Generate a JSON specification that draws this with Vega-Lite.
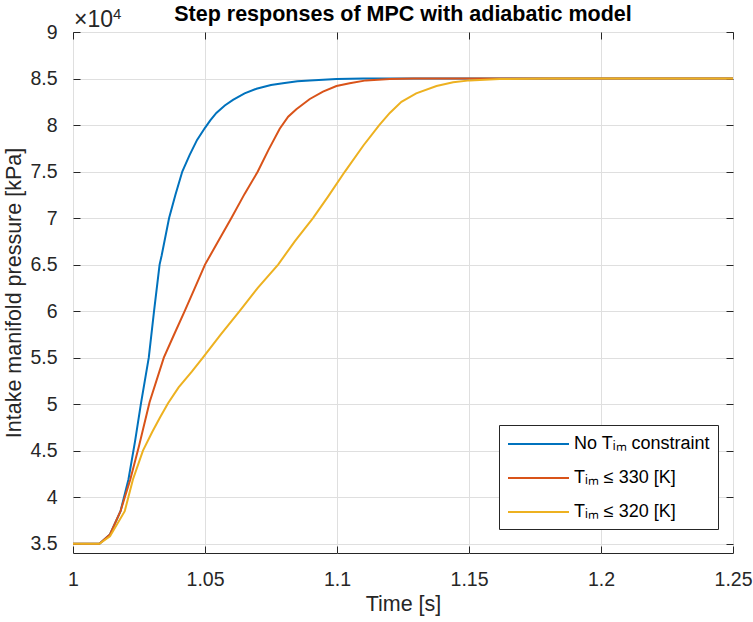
{
  "$schema": "https://vega.github.io/schema/vega-lite/v6.json",
  "width": 660,
  "height": 521,
  "autosize": "none",
  "padding": {"left": 73, "top": 32, "right": 20, "bottom": 69},
  "background": "white",
  "title": {"text": "Step responses of MPC with adiabatic model", "fontSize": 21.5, "fontWeight": "bold", "anchor": "middle", "offset": 8, "dy": 26, "color": "#000000", "font": "Liberation Sans"},
  "config": {
    "font": "Liberation Sans",
    "view": {"stroke": "#262626", "strokeWidth": 1},
    "axis": {
      "labelFont": "Liberation Sans",
      "labelFontSize": 19.5,
      "labelColor": "#262626",
      "titleFont": "Liberation Sans",
      "titleFontSize": 21.5,
      "titleFontWeight": "normal",
      "titleColor": "#262626",
      "gridColor": "#dfdfdf",
      "gridWidth": 1,
      "tickColor": "#262626",
      "tickSize": -7,
      "domain": false,
      "labelFlush": false,
      "labelOverlap": false
    }
  },
  "datasets": {
    "curves": [
      {"t": 1.000, "p": 35000, "series": "No Tᵢₘ constraint"},
      {"t": 1.010, "p": 35000, "series": "No Tᵢₘ constraint"},
      {"t": 1.014, "p": 36000, "series": "No Tᵢₘ constraint"},
      {"t": 1.018, "p": 38500, "series": "No Tᵢₘ constraint"},
      {"t": 1.021, "p": 41900, "series": "No Tᵢₘ constraint"},
      {"t": 1.0235, "p": 46000, "series": "No Tᵢₘ constraint"},
      {"t": 1.0257, "p": 50000, "series": "No Tᵢₘ constraint"},
      {"t": 1.0287, "p": 55000, "series": "No Tᵢₘ constraint"},
      {"t": 1.0307, "p": 60000, "series": "No Tᵢₘ constraint"},
      {"t": 1.0328, "p": 65000, "series": "No Tᵢₘ constraint"},
      {"t": 1.0336, "p": 66000, "series": "No Tᵢₘ constraint"},
      {"t": 1.0364, "p": 70000, "series": "No Tᵢₘ constraint"},
      {"t": 1.0388, "p": 72500, "series": "No Tᵢₘ constraint"},
      {"t": 1.0414, "p": 75000, "series": "No Tᵢₘ constraint"},
      {"t": 1.0442, "p": 76800, "series": "No Tᵢₘ constraint"},
      {"t": 1.0470, "p": 78400, "series": "No Tᵢₘ constraint"},
      {"t": 1.0500, "p": 79700, "series": "No Tᵢₘ constraint"},
      {"t": 1.0520, "p": 80500, "series": "No Tᵢₘ constraint"},
      {"t": 1.0543, "p": 81300, "series": "No Tᵢₘ constraint"},
      {"t": 1.0575, "p": 82100, "series": "No Tᵢₘ constraint"},
      {"t": 1.0606, "p": 82700, "series": "No Tᵢₘ constraint"},
      {"t": 1.0650, "p": 83400, "series": "No Tᵢₘ constraint"},
      {"t": 1.0695, "p": 83900, "series": "No Tᵢₘ constraint"},
      {"t": 1.0750, "p": 84300, "series": "No Tᵢₘ constraint"},
      {"t": 1.0795, "p": 84500, "series": "No Tᵢₘ constraint"},
      {"t": 1.0850, "p": 84700, "series": "No Tᵢₘ constraint"},
      {"t": 1.0897, "p": 84800, "series": "No Tᵢₘ constraint"},
      {"t": 1.0998, "p": 84950, "series": "No Tᵢₘ constraint"},
      {"t": 1.1100, "p": 84990, "series": "No Tᵢₘ constraint"},
      {"t": 1.1200, "p": 85000, "series": "No Tᵢₘ constraint"},
      {"t": 1.2500, "p": 85000, "series": "No Tᵢₘ constraint"},
      {"t": 1.000, "p": 35000, "series": "Tᵢₘ ≤ 330 [K]"},
      {"t": 1.010, "p": 35000, "series": "Tᵢₘ ≤ 330 [K]"},
      {"t": 1.014, "p": 36000, "series": "Tᵢₘ ≤ 330 [K]"},
      {"t": 1.018, "p": 38500, "series": "Tᵢₘ ≤ 330 [K]"},
      {"t": 1.0217, "p": 41900, "series": "Tᵢₘ ≤ 330 [K]"},
      {"t": 1.025, "p": 45500, "series": "Tᵢₘ ≤ 330 [K]"},
      {"t": 1.029, "p": 50200, "series": "Tᵢₘ ≤ 330 [K]"},
      {"t": 1.0344, "p": 55000, "series": "Tᵢₘ ≤ 330 [K]"},
      {"t": 1.0380, "p": 57300, "series": "Tᵢₘ ≤ 330 [K]"},
      {"t": 1.0423, "p": 60000, "series": "Tᵢₘ ≤ 330 [K]"},
      {"t": 1.0460, "p": 62400, "series": "Tᵢₘ ≤ 330 [K]"},
      {"t": 1.0500, "p": 65000, "series": "Tᵢₘ ≤ 330 [K]"},
      {"t": 1.0550, "p": 67500, "series": "Tᵢₘ ≤ 330 [K]"},
      {"t": 1.0600, "p": 70000, "series": "Tᵢₘ ≤ 330 [K]"},
      {"t": 1.0650, "p": 72600, "series": "Tᵢₘ ≤ 330 [K]"},
      {"t": 1.0700, "p": 75000, "series": "Tᵢₘ ≤ 330 [K]"},
      {"t": 1.0740, "p": 77300, "series": "Tᵢₘ ≤ 330 [K]"},
      {"t": 1.0783, "p": 79600, "series": "Tᵢₘ ≤ 330 [K]"},
      {"t": 1.0815, "p": 80900, "series": "Tᵢₘ ≤ 330 [K]"},
      {"t": 1.0846, "p": 81700, "series": "Tᵢₘ ≤ 330 [K]"},
      {"t": 1.0897, "p": 82800, "series": "Tᵢₘ ≤ 330 [K]"},
      {"t": 1.0947, "p": 83600, "series": "Tᵢₘ ≤ 330 [K]"},
      {"t": 1.0998, "p": 84200, "series": "Tᵢₘ ≤ 330 [K]"},
      {"t": 1.1048, "p": 84500, "series": "Tᵢₘ ≤ 330 [K]"},
      {"t": 1.1110, "p": 84800, "series": "Tᵢₘ ≤ 330 [K]"},
      {"t": 1.1200, "p": 84950, "series": "Tᵢₘ ≤ 330 [K]"},
      {"t": 1.1290, "p": 85000, "series": "Tᵢₘ ≤ 330 [K]"},
      {"t": 1.2500, "p": 85000, "series": "Tᵢₘ ≤ 330 [K]"},
      {"t": 1.000, "p": 35000, "series": "Tᵢₘ ≤ 320 [K]"},
      {"t": 1.010, "p": 35000, "series": "Tᵢₘ ≤ 320 [K]"},
      {"t": 1.014, "p": 35800, "series": "Tᵢₘ ≤ 320 [K]"},
      {"t": 1.0196, "p": 38500, "series": "Tᵢₘ ≤ 320 [K]"},
      {"t": 1.0227, "p": 41900, "series": "Tᵢₘ ≤ 320 [K]"},
      {"t": 1.0265, "p": 45000, "series": "Tᵢₘ ≤ 320 [K]"},
      {"t": 1.0300, "p": 47000, "series": "Tᵢₘ ≤ 320 [K]"},
      {"t": 1.0330, "p": 48600, "series": "Tᵢₘ ≤ 320 [K]"},
      {"t": 1.0360, "p": 50100, "series": "Tᵢₘ ≤ 320 [K]"},
      {"t": 1.0400, "p": 51800, "series": "Tᵢₘ ≤ 320 [K]"},
      {"t": 1.0450, "p": 53500, "series": "Tᵢₘ ≤ 320 [K]"},
      {"t": 1.0492, "p": 55000, "series": "Tᵢₘ ≤ 320 [K]"},
      {"t": 1.0560, "p": 57500, "series": "Tᵢₘ ≤ 320 [K]"},
      {"t": 1.0631, "p": 60000, "series": "Tᵢₘ ≤ 320 [K]"},
      {"t": 1.0700, "p": 62500, "series": "Tᵢₘ ≤ 320 [K]"},
      {"t": 1.0777, "p": 65000, "series": "Tᵢₘ ≤ 320 [K]"},
      {"t": 1.0840, "p": 67500, "series": "Tᵢₘ ≤ 320 [K]"},
      {"t": 1.0909, "p": 70000, "series": "Tᵢₘ ≤ 320 [K]"},
      {"t": 1.0966, "p": 72300, "series": "Tᵢₘ ≤ 320 [K]"},
      {"t": 1.1030, "p": 75000, "series": "Tᵢₘ ≤ 320 [K]"},
      {"t": 1.1100, "p": 77800, "series": "Tᵢₘ ≤ 320 [K]"},
      {"t": 1.1160, "p": 80000, "series": "Tᵢₘ ≤ 320 [K]"},
      {"t": 1.1200, "p": 81300, "series": "Tᵢₘ ≤ 320 [K]"},
      {"t": 1.1244, "p": 82500, "series": "Tᵢₘ ≤ 320 [K]"},
      {"t": 1.1300, "p": 83400, "series": "Tᵢₘ ≤ 320 [K]"},
      {"t": 1.1377, "p": 84200, "series": "Tᵢₘ ≤ 320 [K]"},
      {"t": 1.1440, "p": 84600, "series": "Tᵢₘ ≤ 320 [K]"},
      {"t": 1.1503, "p": 84800, "series": "Tᵢₘ ≤ 320 [K]"},
      {"t": 1.1616, "p": 84950, "series": "Tᵢₘ ≤ 320 [K]"},
      {"t": 1.1800, "p": 85000, "series": "Tᵢₘ ≤ 320 [K]"},
      {"t": 1.2500, "p": 85000, "series": "Tᵢₘ ≤ 320 [K]"}
    ],
    "note": [{"base": "×10", "exp": "4"}]
  },
  "layer": [
    {
      "data": {"name": "curves"},
      "mark": {"type": "line", "strokeWidth": 2, "clip": true},
      "encoding": {
        "x": {
          "field": "t", "type": "quantitative",
          "scale": {"domain": [1, 1.25], "nice": false, "zero": false},
          "axis": {"orient": "bottom", "title": "Time [s]", "values": [1, 1.05, 1.1, 1.15, 1.2, 1.25], "format": "~g", "labelPadding": 24, "titlePadding": 5, "grid": true}
        },
        "y": {
          "field": "p", "type": "quantitative",
          "scale": {"domain": [34000, 90000], "nice": false, "zero": false},
          "axis": {"orient": "left", "title": "Intake manifold pressure [kPa]", "values": [35000, 40000, 45000, 50000, 55000, 60000, 65000, 70000, 75000, 80000, 85000, 90000], "labelExpr": "datum.value / 10000", "labelPadding": 23, "titlePadding": 4, "grid": true}
        },
        "color": {
          "field": "series", "type": "nominal",
          "scale": {"domain": ["No Tᵢₘ constraint", "Tᵢₘ ≤ 330 [K]", "Tᵢₘ ≤ 320 [K]"], "range": ["#0072BD", "#D95319", "#EDB120"]},
          "legend": {
            "title": null, "orient": "none", "legendX": 426, "legendY": 393,
            "symbolType": "M-1,0H5.1", "symbolSize": 400, "symbolStrokeWidth": 2,
            "labelFontSize": 18, "labelColor": "#000000", "labelOffset": 45,
            "rowPadding": 14, "padding": 8,
            "strokeColor": "#262626", "fillColor": "#ffffff"
          }
        },
        "order": {"field": "t", "type": "quantitative"}
      }
    },
    {
      "data": {"name": "curves"},
      "mark": {"type": "line", "opacity": 0},
      "encoding": {
        "x": {"field": "t", "type": "quantitative", "axis": {"orient": "top", "labels": false, "title": null, "grid": false, "values": [1, 1.05, 1.1, 1.15, 1.2, 1.25]}},
        "y": {"field": "p", "type": "quantitative", "axis": {"orient": "right", "labels": false, "title": null, "grid": false, "values": [35000, 40000, 45000, 50000, 55000, 60000, 65000, 70000, 75000, 80000, 85000, 90000]}},
        "detail": {"field": "series", "type": "nominal"}
      }
    },
    {
      "data": {"name": "note"},
      "mark": {"type": "text", "align": "left", "baseline": "alphabetic", "dx": 1, "dy": -5, "fontSize": 23, "color": "#262626"},
      "encoding": {
        "x": {"datum": 1, "type": "quantitative", "axis": null},
        "y": {"datum": 90000, "type": "quantitative", "axis": null},
        "text": {"field": "base"}
      }
    },
    {
      "data": {"name": "note"},
      "mark": {"type": "text", "align": "left", "baseline": "alphabetic", "dx": 40, "dy": -13, "fontSize": 15, "color": "#262626"},
      "encoding": {
        "x": {"datum": 1, "type": "quantitative", "axis": null},
        "y": {"datum": 90000, "type": "quantitative", "axis": null},
        "text": {"field": "exp"}
      }
    }
  ],
  "resolve": {"axis": {"x": "independent", "y": "independent"}}
}
